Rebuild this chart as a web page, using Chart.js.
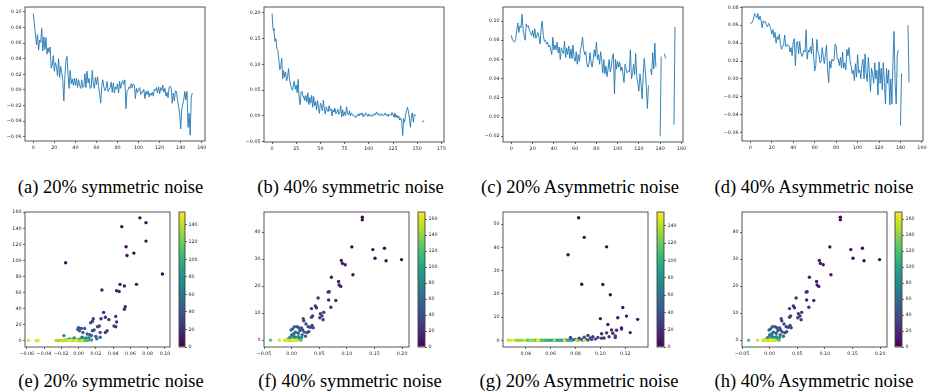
<!DOCTYPE html>
<html>
<head>
<meta charset="utf-8">
<script src="https://cdn.jsdelivr.net/npm/chart.js@4.4.1/dist/chart.umd.min.js"></script>
<style>
  html, body { margin: 0; padding: 0; background: #fff; }
  #fig { position: relative; width: 930px; height: 391px; overflow: hidden; background: #fff; }
  #fig canvas { position: absolute; }
  .cap { position: absolute; width: 300px; text-align: center; font-family: 'Liberation Serif', 'Times New Roman', serif;
         font-size: 18.5px; line-height: 18px; color: #000; white-space: nowrap; }
</style>
</head>
<body>
<div id="fig"></div>
<script>
// ---- line series (per epoch), null = missing value ----
const lossA = [
  0.098, 0.085, 0.072, 0.058, 0.071, 0.051, 0.064, 0.061, 0.079, 0.050,
  0.068, 0.052, 0.067, 0.046, 0.054, 0.048, 0.055, 0.028, 0.031, 0.044,
  0.024, 0.035, 0.030, 0.018, 0.040, 0.016, 0.030, 0.022, 0.012, -0.014,
  0.018, 0.038, 0.043, 0.020, 0.002, 0.025, 0.008, 0.014, 0.006, 0.015,
  0.006, 0.015, 0.003, 0.013, 0.006, 0.002, 0.013, 0.003, 0.004, 0.021,
  0.003, 0.024, 0.009, 0.015, 0.002, 0.003, 0.025, 0.008, 0.002, 0.016,
  0.007, 0.017, 0.004, -0.005, -0.017, 0.005, 0.013, 0.004, -0.001, 0.002,
  0.011, -0.002, 0.001, 0.003, 0.010, -0.003, 0.009, -0.004, 0.004, 0.001,
  0.008, -0.004, 0.011, 0.002, 0.009, 0.012, 0.007, 0.013, -0.024, -0.002,
  0.000, 0.004, 0.002, 0.008, 0.003, 0.008, 0.006, -0.011, 0.002, -0.003,
  0.001, 0.003, -0.006, -0.002, -0.003, 0.001, -0.011, -0.002, -0.006, -0.001,
  -0.009, -0.004, -0.007, -0.003, -0.008, 0.001, -0.001, 0.003, -0.004, 0.004,
  -0.005, 0.003, -0.001, 0.006, -0.003, 0.002, -0.008, -0.003, -0.010, 0.003,
  0.005, 0.002, -0.017, -0.004, -0.014, -0.001, -0.002, -0.013, -0.021, -0.030,
  -0.050, -0.025, -0.018, -0.012, -0.002, -0.013, -0.002, -0.048, -0.030, -0.058,
  -0.010, -0.004
];
const lossB = [
  0.199, 0.170, 0.165, 0.145, 0.150, 0.130, 0.128, 0.110, 0.090, 0.095,
  0.112, 0.072, 0.088, 0.075, 0.085, 0.068, 0.075, 0.092, 0.072, 0.062,
  0.055, 0.050, 0.058, 0.068, 0.052, 0.060, 0.045, 0.071, 0.035, 0.022,
  0.046, 0.048, 0.038, 0.035, 0.030, 0.040, 0.027, 0.045, 0.022, 0.036,
  0.025, 0.040, 0.017, 0.038, 0.020, 0.028, 0.012, 0.030, 0.015, 0.005,
  0.025, 0.020, 0.010, 0.030, 0.015, 0.004, 0.018, 0.012, 0.008, 0.020,
  0.010, 0.014, 0.000, 0.012, 0.008, 0.015, 0.004, 0.008, 0.013, 0.003,
  0.008, 0.020, -0.002, 0.012, 0.000, 0.008, 0.001, 0.018, 0.005, 0.002,
  0.010, 0.000, 0.006, 0.003, 0.000, 0.001, -0.002, -0.003, 0.002, 0.004,
  0.000, 0.005, 0.002, 0.006, -0.001, 0.003, 0.001, 0.006, 0.003, -0.001,
  0.004, 0.000, 0.002, -0.001, 0.003, 0.001, 0.005, 0.002, 0.008, 0.003,
  0.002, 0.005, 0.000, 0.003, 0.004, 0.000, 0.002, 0.006, 0.001, 0.003,
  -0.001, 0.004, 0.002, 0.001, 0.007, 0.002, -0.002, 0.006, -0.003, 0.002,
  -0.004, 0.000, -0.008, -0.004, -0.010, -0.038, -0.005, -0.012, 0.002, 0.010,
  0.017, 0.008, -0.005, -0.022, 0.000, 0.006, -0.012, 0.003, 0.001, 0.002,
  null, null, null, null, null, -0.011, -0.010, -0.009
];
const lossC = [
  0.085, 0.080, 0.079, 0.078, 0.081, 0.090, 0.098, 0.088, 0.095, 0.093,
  0.107, 0.092, 0.084, 0.080, 0.097, 0.094, 0.095, 0.090, 0.088, 0.085,
  0.090, 0.083, 0.092, 0.082, 0.085, 0.088, 0.083, 0.076, 0.092, 0.100,
  0.085, 0.079, 0.080, 0.076, 0.078, 0.073, 0.075, 0.070, 0.065, 0.083,
  0.070, 0.075, 0.070, 0.078, 0.067, 0.073, 0.060, 0.072, 0.068, 0.066,
  0.079, 0.062, 0.072, 0.065, 0.074, 0.061, 0.071, 0.061, 0.075, 0.062,
  0.058, 0.068, 0.055, 0.065, 0.058, 0.070, 0.075, 0.083, 0.070, 0.065,
  0.068, 0.056, 0.052, 0.055, 0.067, 0.057, 0.052, 0.060, 0.070, 0.063,
  0.078, 0.060, 0.065, 0.055, 0.068, 0.058, 0.046, 0.060, 0.045, 0.053,
  0.042, 0.050, 0.060, 0.047, 0.052, 0.062, 0.066, 0.024, 0.060, 0.050,
  0.058, 0.052, 0.057, 0.048, 0.052, 0.045, 0.036, 0.055, 0.050, 0.046,
  0.048, 0.047, 0.070, 0.040, 0.045, 0.055, 0.044, 0.066, 0.042, 0.035,
  0.027, 0.045, 0.035, 0.019, 0.042, 0.061, 0.048, 0.032, 0.009, 0.033,
  null, 0.050, 0.044, 0.067, 0.050, 0.077, 0.052, null, null, null,
  -0.020, 0.063, null, null, 0.066, 0.061, null, null, null, null,
  null, null, null, -0.008, 0.094
];
const lossD = [
  0.063, 0.062, 0.064, 0.068, 0.073, 0.071, 0.068, 0.073, 0.066, 0.070,
  0.065, 0.057, 0.065, 0.063, 0.064, 0.060, 0.058, 0.062, 0.060, 0.056,
  0.050, 0.055, 0.046, 0.052, 0.040, 0.047, 0.044, 0.050, 0.040, 0.033,
  0.036, 0.038, 0.049, 0.036, 0.038, 0.038, 0.037, 0.030, 0.035, 0.026,
  0.042, 0.045, 0.015, 0.040, 0.042, 0.028, 0.042, 0.030, 0.025, 0.028,
  0.032, 0.030, 0.055, 0.022, 0.032, 0.030, 0.036, 0.028, 0.045, 0.025,
  0.009, 0.015, 0.044, 0.030, 0.027, 0.018, 0.020, 0.035, 0.025, 0.017,
  0.028, 0.038, 0.010, -0.004, 0.020, 0.012, 0.022, 0.020, 0.021, 0.039,
  0.037, 0.022, 0.022, 0.015, 0.024, 0.012, 0.030, 0.012, 0.018, 0.010,
  0.033, 0.026, 0.035, 0.020, 0.014, 0.006, 0.010, -0.002, 0.017, 0.002,
  0.027, 0.007, 0.010, 0.000, 0.015, 0.022, 0.000, 0.028, 0.006, -0.003,
  0.024, 0.008, -0.014, 0.012, 0.005, -0.005, 0.018, 0.000, 0.010, -0.018,
  0.019, -0.005, 0.012, -0.012, 0.018, -0.004, -0.028, 0.012, -0.005, 0.010,
  -0.029, 0.000, -0.028, 0.020, 0.053, -0.005, -0.028, 0.027, 0.032, null,
  -0.052, 0.006, null, null, null, null, null, 0.060, -0.004
];

// ---- scatter points: x value, y value, epoch (colour) ----
const eX = [0.071, 0.078, 0.050, 0.078, 0.055, 0.064, 0.056, -0.015, 0.097, 0.048, 0.067, 0.027, 0.053, 0.044, 0.047, 0.054, 0.053, 0.029, 0.031, 0.035, 0.026, 0.043, 0.044, 0.041, 0.043, 0.033, 0.031,
  0.017, 0.016, 0.014, 0.022, 0.024, 0.018, 0.016, 0.025, 0.025, 0.020, 0.013, 0.007, 0.003, 0.000, 0.001, -0.001, 0.005, 0.010, 0.015, 0.021, 0.012, 0.005,
  -0.017, -0.010, -0.005, 0.000, 0.002, 0.004, 0.006, 0.008, 0.010, 0.012, 0.015, -0.015, -0.008, -0.003, 0.003, 0.007, 0.011, -0.012, 0.009, -0.006,
  -0.058, -0.049, -0.047, -0.026, -0.024, -0.022, -0.020, -0.016, -0.014, -0.012, -0.010, -0.008, -0.006, -0.004, -0.002, 0.000, 0.002, 0.004, -0.018, 0.006, 0.008, -0.003];
const eY = [153, 147, 142, 124, 117, 109, 106, 97, 83, 70, 70, 63, 68, 62, 61, 42, 39, 35, 29, 26, 27, 30, 23, 18, 17, 12, 10,
  27, 24, 22, 17, 18, 13, 12, 10, 4, 5, 7, 15, 15, 16, 12, 14, 10, 8, 6, 2, 3, 3,
  6, 2, 3, 1, 2, 4, 1, 2, 0.5, 1, 0.5, 0.5, 0, 1, 0.5, 0.3, 0.3, 1, 3, 2,
  0, 0, 0, 0, 0, 0, 0, 0, 0, 0, 0, 0, 0, 0, 0, 0, 0, 0, 0, 0, 0, 0];
const eC = [2, 4, 3, 6, 5, 1, 7, 8, 0, 9, 10, 12, 11, 13, 14, 15, 16, 17, 20, 19, 18, 22, 21, 24, 23, 26, 25,
  28, 30, 32, 29, 27, 34, 36, 31, 45, 40, 42, 38, 33, 37, 44, 48, 46, 50, 52, 56, 58, 60,
  75, 82, 70, 85, 66, 62, 78, 64, 88, 72, 90, 95, 100, 92, 98, 102, 105, 80, 68, 86,
  150, 147, 148, 138, 132, 128, 140, 144, 135, 142, 152, 146, 125, 139, 120, 130, 115, 145, 136, 110, 112, 154];

const fX = [0.128, 0.128, 0.109, 0.147, 0.168, 0.151, 0.171, 0.199, 0.090, 0.092, 0.097, 0.111, 0.072, 0.085, 0.086, 0.089, 0.066, 0.068, 0.048, 0.067, 0.080, 0.071, 0.043, 0.045, 0.036, 0.058, 0.052, 0.055, 0.051, 0.057, 0.038, 0.036,
  0.021, 0.022, 0.026, 0.030, 0.034, 0.037, 0.039, 0.018, 0.015, 0.020, 0.023, 0.028, 0.031, 0.010, 0.013, 0.005, 0.002, -0.001, 0.007, 0.012, 0.019, 0.025, 0.004,
  -0.003, 0.000, 0.003, 0.006, 0.009, 0.012, 0.015, 0.018, 0.000, 0.005, 0.010, -0.006, 0.008,
  -0.038, -0.022, -0.012, -0.008, -0.005, -0.002, 0.001, 0.003, 0.005, 0.008, 0.010, 0.017, 0.000, 0.002, -0.010, 0.006];
const fY = [45.5, 44.5, 34.5, 33.5, 34.0, 30.3, 29.4, 29.8, 29.5, 28.4, 27.9, 24.2, 23.3, 21.7, 20.4, 19.9, 17.8, 17.9, 15.6, 14.9, 14.7, 12.2, 12.7, 12.0, 11.7, 10.3, 9.8, 9.0, 8.3, 7.6, 9.0, 8.5,
  8.0, 7.2, 6.0, 5.0, 4.8, 5.5, 4.6, 4.5, 3.6, 3.8, 3.0, 2.8, 3.2, 5.0, 4.6, 5.0, 4.2, 3.8, 3.0, 2.6, 2.0, 1.5, 2.4,
  1.0, 2.0, 1.5, 1.2, 0.8, 1.3, 0.5, 1.0, 0.5, 0.3, 0.2, 0.5, 0.2,
  0, 0, 0, 0, 0, 0, 0, 0, 0, 0, 0, 0, 0, 0, 0, 0];
const fC = [0, 1, 2, 4, 3, 5, 6, 0, 10, 9, 11, 8, 13, 12, 14, 15, 17, 16, 20, 18, 19, 21, 23, 22, 25, 24, 26, 27, 28, 29, 30, 31,
  35, 33, 36, 34, 32, 37, 38, 42, 45, 40, 44, 41, 39, 48, 46, 50, 52, 55, 54, 56, 58, 57, 60,
  70, 65, 68, 72, 78, 75, 85, 80, 90, 95, 100, 88, 105,
  128, 160, 155, 165, 150, 140, 168, 145, 158, 162, 152, 125, 135, 148, 142, 118];

const gX = [0.0825, 0.087, 0.105, 0.074, 0.085, 0.102, 0.108, 0.118, 0.121, 0.100, 0.130, 0.114, 0.106, 0.117, 0.117, 0.124, 0.109, 0.105, 0.113, 0.110, 0.101, 0.112, 0.112, 0.107, 0.103, 0.101, 0.098, 0.094, 0.090, 0.092, 0.087, 0.083, 0.076,
  0.096, 0.093, 0.088, 0.085, 0.080, 0.078, 0.090, 0.075, 0.082, 0.086,
  0.072, 0.070, 0.068, 0.066, 0.064, 0.062, 0.060, 0.058, 0.056, 0.055, 0.053, 0.052, 0.050, 0.048, 0.047, 0.045, 0.044, 0.042, 0.041, 0.038, 0.036, 0.035, 0.033, 0.031, 0.028, 0.026, 0.087, 0.081, 0.071, 0.050, 0.063, 0.067, 0.074, 0.077];
const gY = [52.7, 44.3, 40.2, 36.8, 24.1, 24.0, 19.6, 14.1, 10.4, 9.3, 9.0, 9.7, 6.8, 5.3, 4.8, 3.3, 4.4, 3.2, 4.3, 3.0, 2.8, 1.9, 1.2, 1.5, 1.0, 0.9, 1.2, 1.5, 2.1, 1.0, 1.3, 0.9, 1.2,
  0.5, 0.3, 0.4, 0.2, 0.3, 0.2, 0.1, 0.1, 0.1, 0.1,
  0.1, 0, 0, 0, 0, 0, 0, 0, 0, 0, 0, 0, 0, 0, 0, 0, 0, 0, 0, 0, 0, 0, 0, 0, 0, 0, 0, 0, 0, 0, 0, 0, 0, 0];
const gC = [1, 2, 0, 3, 4, 5, 6, 7, 8, 10, 9, 11, 12, 13, 14, 15, 16, 17, 18, 19, 20, 21, 22, 23, 24, 25, 26, 27, 28, 29, 30, 31, 32,
  36, 40, 38, 44, 48, 52, 42, 56, 50, 46,
  60, 65, 70, 75, 80, 85, 95, 100, 90, 110, 105, 115, 120, 125, 118, 130, 135, 112, 122, 140, 128, 132, 126, 145, 150, 142, 155, 148, 152, 156, 138, 108, 98, 88];

// (h) shows the same points as (f)
const hX = fX, hY = fY, hC = fC;

// ---- tick labels ----
const ticksEpoch160 = [0, 20, 40, 60, 80, 100, 120, 140, 160];
const ticksEpoch175 = [0, 25, 50, 75, 100, 125, 150, 175];
const ticksLossA = [-0.06, -0.04, -0.02, 0.00, 0.02, 0.04, 0.06, 0.08, 0.10];
const ticksLossB = [-0.05, 0.00, 0.05, 0.10, 0.15, 0.20];
const ticksLossC = [-0.02, 0.00, 0.02, 0.04, 0.06, 0.08, 0.10];
const ticksLossD = [-0.06, -0.04, -0.02, 0.00, 0.02, 0.04, 0.06, 0.08];
const ticksEx = [-0.06, -0.04, -0.02, 0.00, 0.02, 0.04, 0.06, 0.08, 0.10];
const ticksEy = [0, 20, 40, 60, 80, 100, 120, 140, 160];
const ticksFx = [-0.05, 0.00, 0.05, 0.10, 0.15, 0.20];
const ticksFy = [0, 10, 20, 30, 40];
const ticksGx = [0.04, 0.06, 0.08, 0.10, 0.12];
const ticksGy = [0, 10, 20, 30, 40, 50];
const ticksCb140 = [0, 20, 40, 60, 80, 100, 120, 140];
const ticksCb160 = [0, 20, 40, 60, 80, 100, 120, 140, 160];

const captionsTop = ['(a) 20% symmetric noise', '(b) 40% symmetric noise', '(c) 20% Asymmetric noise', '(d) 40% Asymmetric noise'];
const captionsBottom = ['(e) 20% symmetric noise', '(f) 40% symmetric noise', '(g) 20% Asymmetric noise', '(h) 40% Asymmetric noise'];

// ---- look ----
Chart.defaults.font.family = "'DejaVu Sans', sans-serif";
Chart.defaults.font.size = 4.8;
Chart.defaults.color = '#222';
Chart.defaults.animation = false;

const YW = 34, XH = 12, PT = 5, PR = 10;
const viridisStops = ['#440154', '#482475', '#414487', '#355f8d', '#2a788e', '#21918c', '#22a884', '#44bf70', '#7ad151', '#bddf26', '#fde725'];

function hexRgb(h) {
  return [parseInt(h.slice(1, 3), 16), parseInt(h.slice(3, 5), 16), parseInt(h.slice(5, 7), 16)];
}
function viridis(t) {
  t = Math.max(0, Math.min(1, t));
  const p = t * (viridisStops.length - 1);
  const i = Math.min(Math.floor(p), viridisStops.length - 2);
  const f = p - i;
  const a = hexRgb(viridisStops[i]), b = hexRgb(viridisStops[i + 1]);
  const c = a.map((v, k) => Math.round(v + (b[k] - v) * f));
  return `rgb(${c[0]},${c[1]},${c[2]})`;
}

const framePlugin = {
  id: 'frame',
  afterDraw(chart) {
    const a = chart.chartArea, ctx = chart.ctx;
    ctx.save();
    ctx.strokeStyle = '#444';
    ctx.lineWidth = 0.9;
    ctx.strokeRect(a.left, a.top, a.right - a.left, a.bottom - a.top);
    ctx.restore();
  }
};

const fmt = dec => v => (dec ? v.toFixed(dec) : String(Math.round(v))).replace('-', '\u2212');

function axis(pos, range, ticks, dec, size) {
  return {
    type: 'linear', position: pos, min: range[0], max: range[1],
    grid: { display: true, drawOnChartArea: false, drawTicks: true, tickLength: 2, color: '#444', lineWidth: 0.8 },
    border: { display: false },
    ticks: { autoSkip: false, maxRotation: 0, minRotation: 0, padding: 1.5, callback: fmt(dec) },
    afterBuildTicks: s => { s.ticks = ticks.map(v => ({ value: v })); },
    afterFit: s => {
      if (pos === 'bottom') s.height = size; else s.width = size;
      s.paddingLeft = s.paddingRight = s.paddingTop = s.paddingBottom = 0;
    }
  };
}

const fig = document.getElementById('fig');
function makeCanvas(x, y, w, h) {
  const c = document.createElement('canvas');
  c.width = w; c.height = h;
  c.style.left = x + 'px'; c.style.top = y + 'px';
  c.style.width = w + 'px'; c.style.height = h + 'px';
  fig.appendChild(c);
  return c;
}

const baseOptions = pad => ({
  responsive: false, devicePixelRatio: 1, events: [],
  layout: { padding: pad },
  plugins: { legend: { display: false }, tooltip: { enabled: false } }
});

function linePanel(box, values, xr, yr, xTicks, yTicks, yDec) {
  const cv = makeCanvas(box.l - YW, box.t - PT, box.r - box.l + YW + PR, box.b - box.t + PT + XH);
  new Chart(cv, {
    type: 'line',
    data: { datasets: [{
      data: values.map((v, i) => ({ x: i, y: v })),
      borderColor: '#1f77b4', borderWidth: 0.9, pointRadius: 0, spanGaps: false, tension: 0
    }] },
    options: Object.assign(baseOptions({ left: 0, top: PT, right: PR, bottom: 0 }), {
      scales: { x: axis('bottom', xr, xTicks, 0, XH), y: axis('left', yr, yTicks, yDec, YW) }
    }),
    plugins: [framePlugin]
  });
}

function scatterPanel(box, xs, ys, cs, cmax, xr, yr, xTicks, yTicks, xDec) {
  // later epochs are drawn on top
  const order = cs.map((c, i) => i).sort((i, j) => cs[i] - cs[j]);
  const cv = makeCanvas(box.l - YW, box.t - PT, box.r - box.l + YW + PR, box.b - box.t + PT + XH);
  new Chart(cv, {
    type: 'scatter',
    data: { datasets: [{
      data: order.map(i => ({ x: xs[i], y: ys[i] })),
      pointBackgroundColor: order.map(i => viridis(cs[i] / cmax)),
      pointBorderWidth: 0, pointRadius: 1.7
    }] },
    options: Object.assign(baseOptions({ left: 0, top: PT, right: PR, bottom: 0 }), {
      scales: { x: axis('bottom', xr, xTicks, xDec, XH), y: axis('left', yr, yTicks, 0, YW) }
    }),
    plugins: [framePlugin]
  });
}

function cbGradient(chart) {
  const a = chart.chartArea;
  if (!a) return viridisStops[0];
  const g = chart.ctx.createLinearGradient(0, a.bottom, 0, a.top);
  viridisStops.forEach((c, i) => g.addColorStop(i / (viridisStops.length - 1), c));
  return g;
}

function colorbar(cb, t, b, cmax, ticks) {
  const cv = makeCanvas(cb.l - 2, t - PT, cb.r - cb.l + 2 + 24, b - t + 2 * PT);
  new Chart(cv, {
    type: 'bar',
    data: { labels: [''], datasets: [{
      data: [[0, cmax]], backgroundColor: ctx => cbGradient(ctx.chart),
      borderWidth: 0, barPercentage: 1, categoryPercentage: 1, inflateAmount: 0
    }] },
    options: Object.assign(baseOptions({ left: 2, top: PT, right: 0, bottom: PT }), {
      scales: { x: { display: false }, y: axis('right', [0, cmax], ticks, 0, 24) }
    }),
    plugins: [framePlugin]
  });
}

function caption(text, cx, cy) {
  const d = document.createElement('div');
  d.className = 'cap';
  d.textContent = text;
  d.style.left = (cx - 150) + 'px';
  d.style.top = (cy - 9) + 'px';
  fig.appendChild(d);
}

// ---- top row: loss curves ----
linePanel({ l: 25, r: 205, t: 7, b: 141 }, lossA, [-7.9, 163.1], [-0.0655, 0.1064], ticksEpoch160, ticksLossA, 2);
linePanel({ l: 264, r: 444, t: 7, b: 142 }, lossB, [-8.3, 177.7], [-0.0505, 0.2116], ticksEpoch175, ticksLossB, 2);
linePanel({ l: 503, r: 683, t: 7, b: 142 }, lossC, [-7.9, 161.5], [-0.026, 0.1146], ticksEpoch160, ticksLossC, 2);
linePanel({ l: 742, r: 923, t: 7, b: 141 }, lossD, [-7.8, 161.0], [-0.0693, 0.0803], ticksEpoch160, ticksLossD, 2);

// ---- bottom row: scatter coloured by epoch ----
scatterPanel({ l: 25, r: 170, t: 212, b: 347 }, eX, eY, eC, 154, [-0.062, 0.1058], [-8.2, 160.3], ticksEx, ticksEy, 2);
colorbar({ l: 179, r: 185 }, 212, 347, 154, ticksCb140);
scatterPanel({ l: 264, r: 409, t: 212, b: 347 }, fX, fY, fC, 169, [-0.05, 0.2125], [-2.5, 47.4], ticksFx, ticksFy, 2);
colorbar({ l: 418, r: 425 }, 212, 347, 169, ticksCb160);
scatterPanel({ l: 503, r: 648, t: 212, b: 347 }, gX, gY, gC, 156, [0.0217, 0.1383], [-2.9, 55.2], ticksGx, ticksGy, 2);
colorbar({ l: 657, r: 664 }, 212, 347, 156, ticksCb140);
scatterPanel({ l: 742, r: 887, t: 212, b: 347 }, hX, hY, hC, 169, [-0.05, 0.2125], [-2.5, 47.4], ticksFx, ticksFy, 2);
colorbar({ l: 895, r: 902 }, 212, 347, 169, ticksCb160);

// ---- captions ----
[110.5, 350.5, 580, 814].forEach((cx, i) => caption(captionsTop[i], cx, 187));
[111, 350, 579, 814].forEach((cx, i) => caption(captionsBottom[i], cx, 381));
</script>
</body>
</html>
